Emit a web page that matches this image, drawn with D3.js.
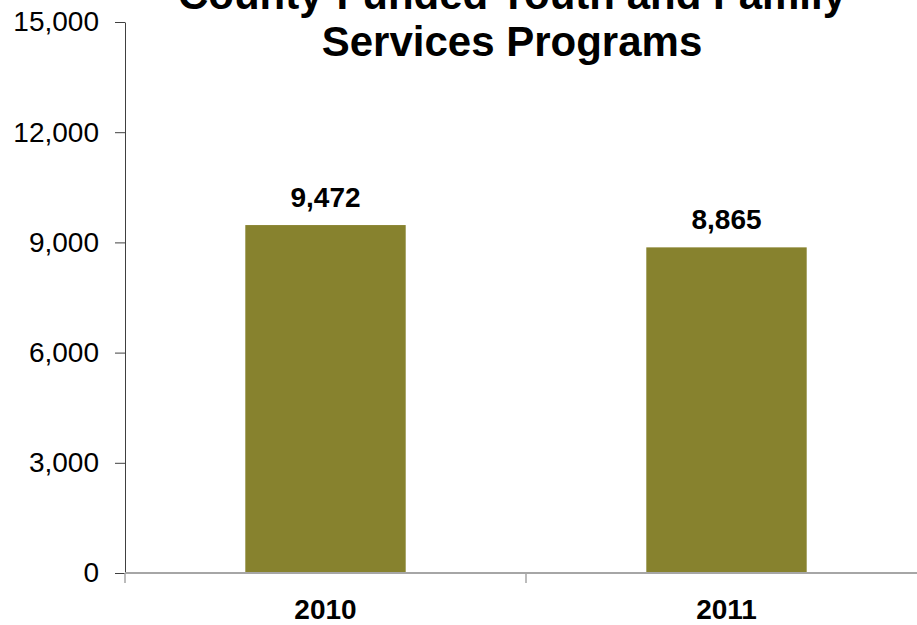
<!DOCTYPE html>
<html>
<head>
<meta charset="utf-8">
<script src="https://cdn.jsdelivr.net/npm/d3@7"></script>
<style>
  body { margin: 0; background: #fff; }
  text { font-family: "Liberation Sans", Arial, sans-serif; }
</style>
</head>
<body>
<svg id="chart"></svg>
<script>
const categories = ['2010', '2011']
const values = [9472, 8865]
const yTicks = [0, 3000, 6000, 9000, 12000, 15000]
const titleLines = ['County-Funded Youth and Family', 'Services Programs']

const width = 917, height = 625
const margin = {top: 22, right: -10, bottom: 52, left: 125}

const svg = d3.select('#chart')
  .attr('width', width)
  .attr('height', height)

const x = d3.scaleBand()
  .domain(categories)
  .range([margin.left, width - margin.right])
  .paddingInner(0.6)
  .paddingOuter(0.3)

const y = d3.scaleLinear()
  .domain([0, 15000])
  .range([height - margin.bottom, margin.top])

// bars
svg.append('g')
  .attr('fill', '#87822e')
  .selectAll('rect')
  .data(values)
  .join('rect')
    .attr('x', (d, i) => x(categories[i]))
    .attr('y', d => y(d))
    .attr('width', x.bandwidth())
    .attr('height', d => y(0) - y(d))

// value labels
svg.append('g')
  .selectAll('text')
  .data(values)
  .join('text')
    .attr('x', (d, i) => x(categories[i]) + x.bandwidth() / 2)
    .attr('y', d => y(d) - 18)
    .attr('text-anchor', 'middle')
    .attr('font-size', 28)
    .attr('font-weight', 'bold')
    .text(d => d3.format(',')(d))

// y axis
const yAxis = svg.append('g')
  .attr('transform', 'translate(' + margin.left + ',0)')
  .call(d3.axisLeft(y).tickValues(yTicks).tickFormat(d3.format(',')).tickSize(10).tickSizeOuter(0).tickPadding(16))
yAxis.select('.domain').attr('stroke', '#404040')
yAxis.selectAll('.tick line').attr('stroke', '#404040')
yAxis.selectAll('.tick text')
  .attr('font-size', 28)
  .attr('font-family', '"Liberation Sans", Arial, sans-serif')
  .attr('fill', '#000')

// x axis: line with ticks at category boundaries
const step = x.step()
const bounds = categories.map(c => x(c) - step * x.paddingInner() / 2)
bounds.push(x(categories[categories.length - 1]) + x.bandwidth() + step * x.paddingInner() / 2)

const xAxis = svg.append('g')
xAxis.append('line')
  .attr('x1', margin.left)
  .attr('x2', width - margin.right)
  .attr('y1', y(0))
  .attr('y2', y(0))
  .attr('stroke', '#a6a6a6')
  .attr('stroke-width', 2)
xAxis.selectAll('line.tick')
  .data(bounds)
  .join('line')
    .attr('class', 'tick')
    .attr('x1', d => d)
    .attr('x2', d => d)
    .attr('y1', y(0))
    .attr('y2', y(0) + 10)
    .attr('stroke', '#a6a6a6')
    .attr('stroke-width', 1.5)
xAxis.selectAll('text')
  .data(categories)
  .join('text')
    .attr('x', d => x(d) + x.bandwidth() / 2)
    .attr('y', y(0) + 46)
    .attr('text-anchor', 'middle')
    .attr('font-size', 28)
    .attr('font-weight', 'bold')
    .text(d => d)

// title (first line runs off the top edge, as in the original)
svg.append('g')
  .selectAll('text')
  .data(titleLines)
  .join('text')
    .attr('x', 512)
    .attr('y', (d, i) => 9 + i * 47)
    .attr('text-anchor', 'middle')
    .attr('font-size', 42)
    .attr('font-weight', 'bold')
    .text(d => d)
</script>
</body>
</html>
